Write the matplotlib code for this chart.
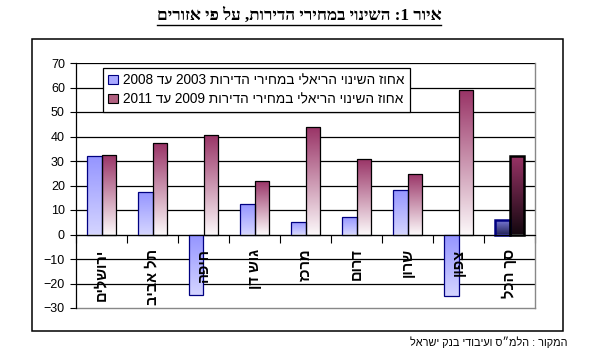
import re

import matplotlib
matplotlib.use("Agg")
import matplotlib.pyplot as plt
import numpy as np
from matplotlib.colors import to_rgb
from matplotlib.lines import Line2D
from matplotlib.patches import Patch, Rectangle

plt.rcParams["font.family"] = ["Liberation Sans", "DejaVu Sans"]

TITLE = "איור 1: השינוי במחירי הדירות, על פי אזורים"
SOURCE = "המקור : הלמ״ס ועיבודי בנק ישראל"
regions = ["ירושלים", "תל אביב", "חיפה", "גוש דן", "מרכז", "דרום", "שרון", "צפון", "סך הכל"]
labels = ["אחוז השינוי הריאלי במחירי הדירות 2003 עד 2008",
          "אחוז השינוי הריאלי במחירי הדירות 2009 עד 2011"]
chg_03_08 = [32, 17.5, -24.5, 12.5, 5, 7, 18, -25, 6]
chg_09_11 = [32.5, 37.5, 40.5, 22, 44, 31, 24.5, 59, 32]
yticks = [-30, -20, -10, 0, 10, 20, 30, 40, 50, 60, 70]


def visual(s):
    # matplotlib has no bidi: reverse for RTL, keep digit runs readable
    r = s[::-1]
    return re.sub(r"[0-9]+", lambda m: m.group(0)[::-1], r)


def gradient_fill(ax, bar, top, bottom):
    x, y = bar.get_x(), bar.get_y()
    w, h = bar.get_width(), bar.get_height()
    y0, y1 = min(y, y + h), max(y, y + h)
    t = np.linspace(0, 1, 64)[:, None, None]
    img = (1 - t) * np.array(to_rgb(top)) + t * np.array(to_rgb(bottom))
    im = ax.imshow(img, extent=[x, x + w, y0, y1], origin="upper",
                   aspect="auto", zorder=bar.get_zorder() - 0.1,
                   interpolation="bilinear")
    im.set_clip_path(bar)


fig = plt.figure(figsize=(5.9, 3.56), dpi=100)
ax = fig.add_axes([76 / 590, 1 - 308 / 356, 459 / 590, 245 / 356])

n = len(regions)
xs = np.arange(n)
w = 0.28
blue = ax.bar(xs - w / 2, chg_03_08, w, facecolor="none", edgecolor="#000080",
              linewidth=0.9, zorder=3)
red = ax.bar(xs + w / 2, chg_09_11, w, facecolor="none", edgecolor="black",
             linewidth=0.9, zorder=3)
for i, (b, r) in enumerate(zip(blue, red)):
    if i == n - 1:
        b.set_linewidth(1.8)
        r.set_linewidth(1.8)
        gradient_fill(ax, b, "#7f7fe0", "#2a2a60")
        gradient_fill(ax, r, "#993366", "#150810")
    else:
        gradient_fill(ax, b, "#9494ff", "#d4d4ff")
        gradient_fill(ax, r, "#993366", "#fbf6f8")

ax.set_xlim(-0.5, n - 0.5)
ax.set_ylim(-30, 70)
ax.set_yticks(yticks)
ax.tick_params(axis="y", length=4, width=0.8, labelsize=9, pad=4)
for yv in yticks[1:]:
    ax.axhline(yv, color="black", linewidth=0.9, zorder=1)

for s in ["top", "right"]:
    ax.spines[s].set_visible(False)
ax.spines["bottom"].set_position(("data", 0))
ax.spines["bottom"].set_zorder(4)
ax.spines["left"].set_linewidth(0.9)
ax.set_xticks(np.arange(n + 1) - 0.5)
ax.set_xticklabels([])
ax.tick_params(axis="x", direction="out", length=6, width=0.8)
ax.plot([1, 1], [0, 1], transform=ax.transAxes, color="#888888",
        linewidth=1, clip_on=False)
ax.plot([0, 1], [0, 0], transform=ax.transAxes, color="#888888",
        linewidth=1, clip_on=False)

for i, name in enumerate(regions):
    ax.annotate(visual(name), (i, 0), xytext=(0, -10), textcoords="offset points",
                rotation=90, ha="center", va="top", fontsize=10.5,
                fontweight="bold", zorder=5)

handles = [Patch(facecolor="#a8a8ff", edgecolor="#000080", linewidth=0.8),
           Patch(facecolor="#b06080", edgecolor="black", linewidth=0.8)]
leg = ax.legend(handles, [visual(l) for l in labels], loc="upper left",
                bbox_to_anchor=(27 / 459, 240 / 245), borderaxespad=0,
                fancybox=False, framealpha=1, edgecolor="black", fontsize=9.8,
                handlelength=0.7, handleheight=0.7, handletextpad=0.4,
                labelspacing=0.35, borderpad=0.4)
leg.get_frame().set_linewidth(0.9)
leg.set_zorder(6)

# outer chart frame
fig.patches.append(Rectangle((32 / 590, 1 - 331 / 356), 531 / 590, 292 / 356,
                             transform=fig.transFigure, fill=False,
                             edgecolor="black", linewidth=1.1))

title = fig.text(299 / 590, 1 - 16 / 356, visual(TITLE), ha="center", va="center",
                 fontsize=12.3, fontweight="bold", family=["Liberation Serif", "DejaVu Serif"])
fig.text(568 / 590, 1 - 342 / 356, visual(SOURCE), ha="right", va="center",
         fontsize=7.8)

fig.canvas.draw()
bb = title.get_window_extent().transformed(fig.transFigure.inverted())
fig.add_artist(Line2D([bb.x0, bb.x1], [bb.y0 - 0.004] * 2, transform=fig.transFigure,
                      color="black", linewidth=1))

fig.savefig("out.png", dpi=100)
